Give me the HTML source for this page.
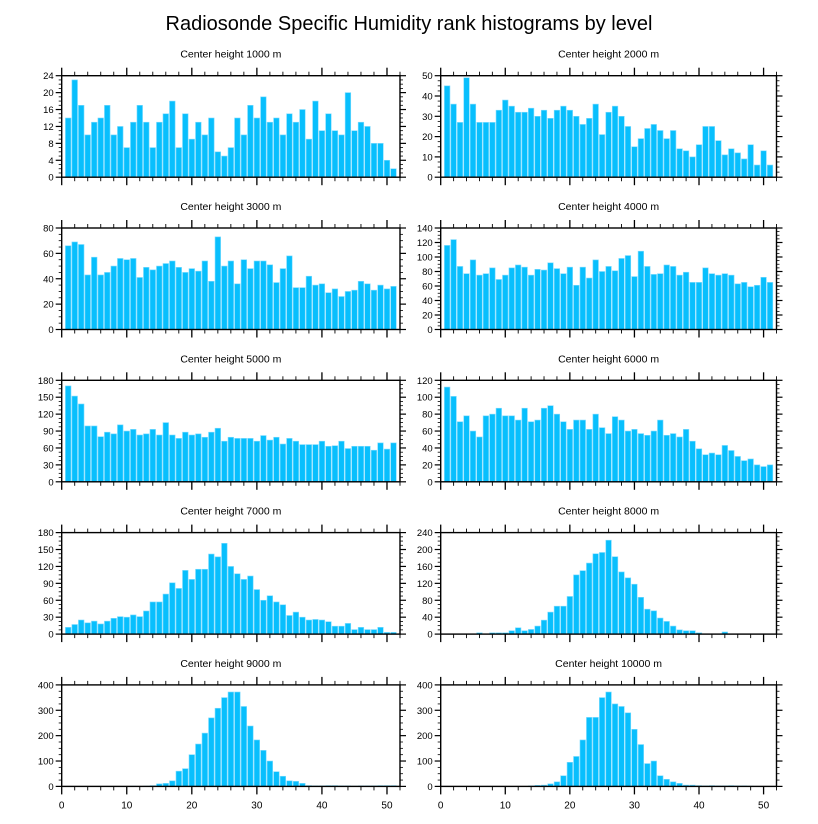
<!DOCTYPE html>
<html><head><meta charset="utf-8"><style>
html,body{margin:0;padding:0;background:#fff;}
svg{display:block;font-family:"Liberation Sans",sans-serif;}
</style></head><body>
<svg id="chart" width="818" height="824" viewBox="0 0 818 824" xmlns="http://www.w3.org/2000/svg">
<text x="409" y="30" text-anchor="middle" font-size="20">Radiosonde Specific Humidity rank histograms by level</text>
</svg>
<script>
const titles = ["Center height 1000 m","Center height 2000 m","Center height 3000 m","Center height 4000 m","Center height 5000 m","Center height 6000 m","Center height 7000 m","Center height 8000 m","Center height 9000 m","Center height 10000 m"];
const ymaxs = [24,50,80,140,180,120,180,240,400,400];
const ysteps = [4,10,20,20,30,20,30,40,100,100];
const xTicks = [0,10,20,30,40,50];
const h1000 = [14,23,17,10,13,14,17,10,12,7,13,17,13,7,13,15,18,7,15,9,13,10,14,6,5,7,14,10,17,14,19,13,14,10,15,13,16,9,18,11,15,11,10,20,11,13,12,8,8,4,2];
const h2000 = [45,36,27,49,36,27,27,27,33,38,35,32,32,34,30,33,29,33,35,33,30,26,29,36,21,32,35,30,25,15,19,24,26,23,19,23,14,13,10,16,25,25,18,11,14,12,9,16,6,13,6];
const h3000 = [66,69,67,43,57,43,45,50,56,55,56,41,49,47,50,52,54,49,45,48,46,54,38,73,50,54,36,55,48,54,54,51,37,48,58,33,33,42,35,36,29,32,26,30,31,38,36,31,35,32,34];
const h4000 = [116,124,87,77,96,75,77,85,69,75,85,89,86,75,83,82,92,84,77,86,61,86,71,96,80,87,81,98,102,73,108,87,76,77,89,87,75,79,65,65,85,77,75,77,75,63,65,59,61,72,65];
const h5000 = [170,152,138,99,99,80,88,85,101,90,93,83,85,93,83,105,83,77,88,83,85,79,88,95,72,79,77,77,77,72,82,74,79,67,77,72,66,66,66,72,63,64,72,59,63,63,63,56,69,58,69];
const h6000 = [112,101,71,78,60,53,78,80,87,78,78,73,87,71,73,87,90,80,71,62,73,73,62,80,64,57,77,73,60,62,57,55,60,73,55,57,53,62,48,39,32,34,32,43,37,30,25,27,20,18,20];
const h7000 = [12,17,25,20,23,18,23,28,31,30,34,31,41,57,57,71,91,81,113,97,115,115,142,137,161,120,107,97,103,79,60,68,57,52,33,39,30,25,26,25,22,14,14,19,8,12,8,8,12,3,3];
const h8000 = [0,0,0,0,0,3,0,3,3,3,8,15,8,11,19,33,52,66,66,89,140,150,168,190,193,222,183,147,133,118,87,59,55,38,30,19,10,8,8,3,0,0,0,5,0,0,0,0,0,0,0];
const h9000 = [0,0,0,0,0,0,0,0,0,0,1,0,1,3,10,12,22,60,70,125,167,210,270,308,350,372,372,315,238,183,142,100,58,40,22,20,12,3,2,2,3,3,2,2,1,2,2,2,3,3,3];
const h10000 = [0,0,0,0,0,0,0,0,0,0,0,0,0,2,4,5,10,18,42,95,118,183,272,272,350,372,325,315,290,225,165,90,100,42,28,18,12,5,5,3,2,3,2,2,3,2,2,1,0,0,0];
const series = [h1000,h2000,h3000,h4000,h5000,h6000,h7000,h8000,h9000,h10000];

const NS="http://www.w3.org/2000/svg";
const svg=document.getElementById('chart');
function mk(tag,attrs,parent){const e=document.createElementNS(NS,tag);for(const k in attrs)e.setAttribute(k,attrs[k]);(parent||svg).appendChild(e);return e;}

const colX=[[61.7,400],[440.7,776.5]];
const rowTop=75.7, rowH=101.5, rowGap=152.3;

for(let p=0;p<10;p++){
  const col=p%2,row=Math.floor(p/2);
  const x0=colX[col][0],x1=colX[col][1];
  const yT=rowTop+row*rowGap, yB=yT+rowH;
  const ymax=ymaxs[p], ystep=ysteps[p];
  const sx=v=>x0+(v/52)*(x1-x0);
  const sy=v=>yB-(v/ymax)*(yB-yT);
  const g=mk('g',{});
  
  
  const t=mk('text',{x:(x0+x1)/2,y:yT-18,'text-anchor':'middle','font-size':'10.5'},g);
  
  
  t.textContent=titles[p];
  const data=series[p];
  const bw=(x1-x0)/52*0.86;
  data.forEach((v,i)=>{
    if(v<=0)return;
    const r=mk('rect',{x:sx(i+1)-bw/2,y:sy(v),width:bw,height:yB-sy(v),fill:'#08bffd',stroke:'#7fdcff','stroke-width':'0.6'},g);
    
    
  });
  const fr=mk('rect',{x:x0,y:yT,width:x1-x0,height:rowH,fill:'none',stroke:'#000','stroke-width':'1.4'},g);
  
  
  // x ticks
  for(let v=0;v<=52;v+=2){
    const X=sx(v),maj=(v%10===0),L=maj?8:4;
    mk('line',{x1:X,x2:X,y1:yB,y2:yB+L,stroke:'#000','stroke-width':maj?1.3:0.9},g);
    mk('line',{x1:X,x2:X,y1:yT,y2:yT-L,stroke:'#000','stroke-width':maj?1.3:0.9},g);
  }
  if(row===4){
    xTicks.forEach(v=>{
      const tl=mk('text',{x:sx(v),y:yB+22,'text-anchor':'middle','font-size':'10'},g);
      
      
      tl.textContent=v;
    });
  }
  // y ticks
  const minor=ystep/4;
  for(let v=0;v<=ymax+1e-9;v+=minor){
    const Y=sy(v),maj=Math.abs(v/ystep-Math.round(v/ystep))<1e-6,L=maj?6:3;
    mk('line',{x1:x0,x2:x0-L,y1:Y,y2:Y,stroke:'#000','stroke-width':maj?1.2:0.8},g);
    mk('line',{x1:x1,x2:x1+L,y1:Y,y2:Y,stroke:'#000','stroke-width':maj?1.2:0.8},g);
    if(maj){
      const yl=mk('text',{x:x0-8,y:Y+3.5,'text-anchor':'end','font-size':'9.5'},g);
      
      
      yl.textContent=Math.round(v);
    }
  }
}
</script>
</body></html>
